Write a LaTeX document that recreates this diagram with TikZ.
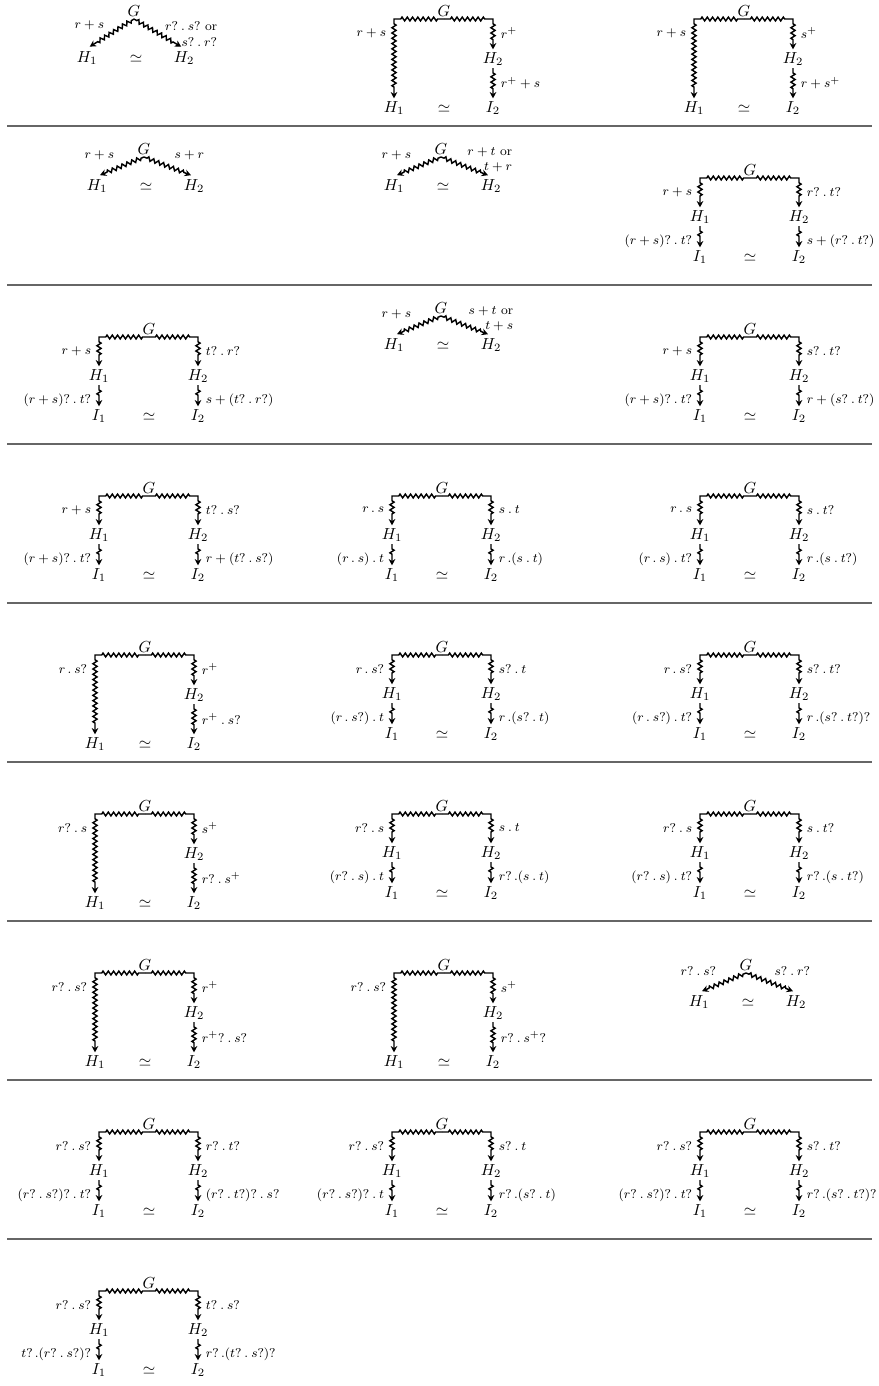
\documentclass[tikz,border=0pt]{standalone}
\usepackage{amsmath}
\usepackage{tikz}
\usetikzlibrary{arrows.meta, decorations.pathmorphing}
\newcommand{\sq}{\mathbin{.}}
\newcommand{\sqo}{\,.}
\tikzset{
  obj/.style={inner sep=1.5pt, anchor=base},
  lbl/.style={font=\footnotesize, inner sep=1pt},
  arr/.style={-{Stealth[length=4pt, width=4.2pt]}, line width=0.9pt},
  hzz/.style={decoration={zigzag, segment length=3.3pt, amplitude=1.2pt,
    pre length=4pt, post length=4pt}},
  vzz/.style={decoration={zigzag, segment length=3.3pt, amplitude=1.3pt,
    pre length=3pt, post length=5.5pt}},
  dzz/.style={decoration={zigzag, segment length=3.3pt, amplitude=1.2pt,
    pre length=2pt, post length=6.5pt}},
  sep/.style={line width=1pt, color=black!60}
}
% G splits into H1 and H2, both go on to I1 and I2
\newcommand{\splitcell}[7]{%
  \coordinate (#1top) at (#2,{#3+52});
  \node[obj, anchor=south] (#1G) at (#1top) {$G$};
  \node[obj] (#1H1) at ({#2-50},{#3+95}) {$H_1$};
  \node[obj] (#1H2) at ({#2+49},{#3+95}) {$H_2$};
  \node[obj] (#1I1) at ({#2-50},{#3+135}) {$I_1$};
  \node[obj] (#1eq) at (#2,{#3+135}) {$\simeq$};
  \node[obj] (#1I2) at ({#2+49},{#3+135}) {$I_2$};
  \draw[arr] (#1top) decorate[hzz]{-- (#1H1 |- #1top)} decorate[vzz]{-- (#1H1)};
  \draw[arr] (#1top) decorate[hzz]{-- (#1H2 |- #1top)} decorate[vzz]{-- (#1H2)};
  \draw[arr, decorate, vzz] (#1H1) -- (#1I1);
  \draw[arr, decorate, vzz] (#1H2) -- (#1I2);
  \node[lbl, anchor=east] (#1la) at ({#2-56},{#3+66}) {$#4$};
  \node[lbl, anchor=west] (#1ra) at ({#2+55},{#3+66}) {$#5$};
  \node[lbl, anchor=east] (#1lb) at ({#2-56},{#3+115}) {$#6$};
  \node[lbl, anchor=west] (#1rb) at ({#2+55},{#3+115}) {$#7$};
}
% G goes straight down to H1, and via H2 to I2
\newcommand{\longcell}[6]{%
  \coordinate (#1top) at (#2,{#3+52});
  \node[obj, anchor=south] (#1G) at (#1top) {$G$};
  \node[obj] (#1H2) at ({#2+49},{#3+96}) {$H_2$};
  \node[obj] (#1H1) at ({#2-50},{#3+145}) {$H_1$};
  \node[obj] (#1eq) at (#2,{#3+145}) {$\simeq$};
  \node[obj] (#1I2) at ({#2+49},{#3+145}) {$I_2$};
  \draw[arr] (#1top) decorate[hzz]{-- (#1H1 |- #1top)} decorate[vzz]{-- (#1H1)};
  \draw[arr] (#1top) decorate[hzz]{-- (#1H2 |- #1top)} decorate[vzz]{-- (#1H2)};
  \draw[arr, decorate, vzz] (#1H2) -- (#1I2);
  \node[lbl, anchor=east] (#1la) at ({#2-56},{#3+66}) {$#4$};
  \node[lbl, anchor=west] (#1ra) at ({#2+55},{#3+66}) {$#5$};
  \node[lbl, anchor=west] (#1rb) at ({#2+55},{#3+116}) {$#6$};
}
% G branches once into H1 and H2
\newcommand{\vcell}[9]{%
  \coordinate (#1top) at (#2,#3);
  \node[obj, anchor=south] (#1G) at (#1top) {$G$};
  \node[obj] (#1H1) at ({#2-47},{#3+#4}) {$H_1$};
  \node[obj] (#1eq) at ({#2+2},{#3+#4}) {$\simeq$};
  \node[obj] (#1H2) at ({#2+50},{#3+#4}) {$H_2$};
  \draw[arr, decorate, dzz, shorten >=2pt] (#1top) -- (#1H1.north);
  \draw[arr, decorate, dzz, shorten >=2pt] (#1top) -- (#1H2.north);
  \node[lbl, anchor=east] (#1la) at ({#2-28},{#3+#6}) {#5};
  \node[lbl, anchor=east, align=right] (#1ra) at ({#2+#8},{#3+#9}) {#7};
}
\begin{document}
\begin{tikzpicture}[x=0.022cm, y=-0.022cm]
  \useasboundingbox (0,0) rectangle (879,1386);

  % row separators
  \foreach \ly in {126,285,444,603,762,921,1080,1239}
    \draw[sep] (7,\ly) -- (872,\ly);

  % Row 1
  \vcell{c11}{134}{19}{43}{$r+s$}{6}{$r?\sq s?$ or\\$s?\sq r?$}{85}{15}
  \longcell{c12}{444}{-33}{r+s}{r^+}{r^+ + s}
  \longcell{c13}{744}{-33}{r+s}{s^+}{r+s^+}

  % Row 2
  \vcell{c21}{144}{157}{33}{$r+s$}{-2}{$s+r$}{62}{-2}
  \vcell{c22}{441}{157}{33}{$r+s$}{-2}{$r+t$ or\\$t+r$}{73}{3}
  \splitcell{c23}{750}{126}{r+s}{r?\sq t?}{(r+s)?\sq t?}{s+(r?\sq t?)}

  % Row 3
  \vcell{c31}{441}{316}{33}{$r+s$}{-2}{$s+t$ or\\$t+s$}{74}{3}
  \splitcell{c32}{149}{285}{r+s}{t?\sq r?}{(r+s)?\sq t?}{s+(t?\sq r?)}
  \splitcell{c33}{750}{285}{r+s}{s?\sq t?}{(r+s)?\sq t?}{r+(s?\sq t?)}

  % Row 4
  \splitcell{c41}{149}{444}{r+s}{t?\sq s?}{(r+s)?\sq t?}{r+(t?\sq s?)}
  \splitcell{c42}{442}{444}{r\sq s}{s\sq t}{(r\sq s)\sq t}{r\sqo(s\sq t)}
  \splitcell{c43}{750}{444}{r\sq s}{s\sq t?}{(r\sq s)\sq t?}{r\sqo(s\sq t?)}

  % Row 5
  \longcell{c51}{145}{603}{r\sq s?}{r^+}{r^+\sq s?}
  \splitcell{c52}{442}{603}{r\sq s?}{s?\sq t}{(r\sq s?)\sq t}{r\sqo(s?\sq t)}
  \splitcell{c53}{750}{603}{r\sq s?}{s?\sq t?}{(r\sq s?)\sq t?}{r\sqo(s?\sq t?)?}

  % Row 6
  \longcell{c61}{145}{762}{r?\sq s}{s^+}{r?\sq s^+}
  \splitcell{c62}{442}{762}{r?\sq s}{s\sq t}{(r?\sq s)\sq t}{r?\sqo(s\sq t)}
  \splitcell{c63}{750}{762}{r?\sq s}{s\sq t?}{(r?\sq s)\sq t?}{r?\sqo(s\sq t?)}

  % Row 7
  \longcell{c71}{145}{921}{r?\sq s?}{r^+}{r^+?\sq s?}
  \longcell{c72}{444}{921}{r?\sq s?}{s^+}{r?\sq s^+?}
  \vcell{c73}{746}{973}{33}{$r?\sq s?$}{-2}{$s?\sq r?$}{66}{-2}

  % Row 8
  \splitcell{c81}{149}{1080}{r?\sq s?}{r?\sq t?}{(r?\sq s?)?\sq t?}{(r?\sq t?)?\sq s?}
  \splitcell{c82}{442}{1080}{r?\sq s?}{s?\sq t}{(r?\sq s?)?\sq t}{r?\sqo(s?\sq t)}
  \splitcell{c83}{750}{1080}{r?\sq s?}{s?\sq t?}{(r?\sq s?)?\sq t?}{r?\sqo(s?\sq t?)?}

  % Row 9
  \splitcell{c91}{149}{1239}{r?\sq s?}{t?\sq s?}{t?\sqo(r?\sq s?)?}{r?\sqo(t?\sq s?)?}
\end{tikzpicture}
\end{document}
